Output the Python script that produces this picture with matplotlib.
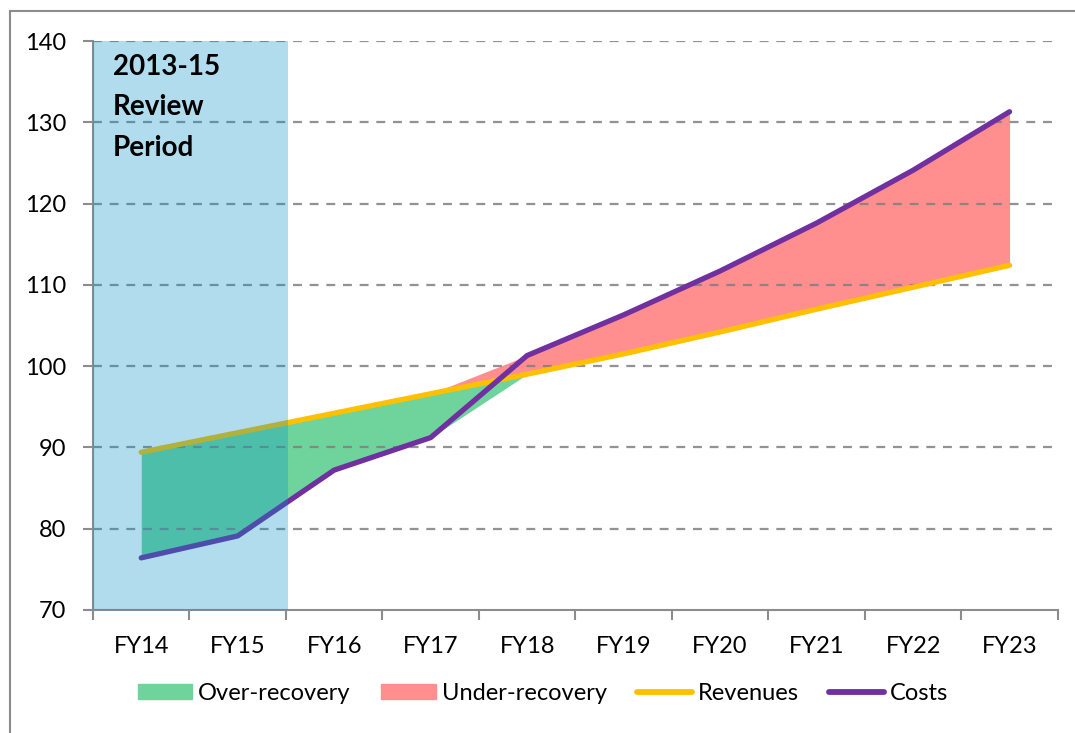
import numpy as np
import matplotlib
matplotlib.use("Agg")
import matplotlib.pyplot as plt
from matplotlib.patches import Rectangle
from matplotlib.lines import Line2D
from matplotlib.ticker import FixedLocator

plt.rcParams['font.family'] = ['Lato', 'DejaVu Sans']

years = ['FY14', 'FY15', 'FY16', 'FY17', 'FY18', 'FY19', 'FY20', 'FY21', 'FY22', 'FY23']
revenues = [89.4, 91.8, 94.2, 96.6, 99.0, 101.5, 104.2, 107.0, 109.7, 112.4]
costs = [76.4, 79.1, 87.2, 91.2, 101.3, 106.3, 111.7, 117.6, 124.1, 131.3]
review_label = '2013-15\nReview\nPeriod'

green = '#6ED49B'
red = '#FF8F8F'
yellow = '#FFC000'
purple = '#7030A0'
blue = (6 / 255, 144 / 255, 201 / 255)

x = np.arange(len(years))
rev = np.array(revenues)
cst = np.array(costs)
base = np.minimum(rev, cst)
over = np.maximum(rev - cst, 0)
under = np.maximum(cst - rev, 0)

fig = plt.figure(figsize=(10.75, 7.33), dpi=100)
ax = fig.add_axes([0.0865, 0.168, 0.8975, 0.776])

# excel-style stacked areas
ax.fill_between(x, base, base + over, color=green, lw=0, zorder=1)
ax.fill_between(x, base + over, base + over + under, color=red, lw=0, zorder=1)

for yv in range(80, 141, 10):
    ax.axhline(yv, color='#7f7f7f', lw=1.6, ls=(0, (4, 3.5)), alpha=0.85, zorder=2)

ax.plot(x, rev, color=yellow, lw=3.8, solid_capstyle='round', zorder=3)
ax.plot(x, cst, color=purple, lw=3.8, solid_capstyle='round', zorder=3)

# review period shading on top
ax.axvspan(-0.5, 1.52, color=blue, alpha=0.31, lw=0, zorder=4)
ax.text(-0.29, 138.4, review_label, fontsize=20, fontweight='bold', va='top',
        ha='left', linespacing=1.68, zorder=5)

ax.set_xlim(-0.5, 9.5)
ax.set_ylim(70, 140)
ax.set_yticks(range(70, 141, 10))
ax.set_xticks(x)
ax.set_xticklabels(years)
ax.xaxis.set_minor_locator(FixedLocator(np.arange(-0.5, 9.6, 1)))
ax.tick_params(axis='x', which='major', length=0, pad=19, labelsize=17)
ax.tick_params(axis='x', which='minor', length=7, width=1.5, color='#8c8c8c', direction='out')
ax.tick_params(axis='y', length=7, width=1.5, color='#8c8c8c', pad=12, labelsize=17)

for s in ['top', 'right']:
    ax.spines[s].set_visible(False)
for s in ['left', 'bottom']:
    ax.spines[s].set_color('#8c8c8c')
    ax.spines[s].set_linewidth(1.5)

handles = [
    Rectangle((0, 0), 1, 1, color=green),
    Rectangle((0, 0), 1, 1, color=red),
    Line2D([0], [0], color=yellow, lw=4.2, solid_capstyle='round'),
    Line2D([0], [0], color=purple, lw=4.2, solid_capstyle='round'),
]
labels = ['Over-recovery', 'Under-recovery', 'Revenues', 'Costs']
fig.legend(handles, labels, loc='center', bbox_to_anchor=(0.505, 0.054), ncol=4,
           frameon=False, fontsize=17, handlelength=2.3, handleheight=0.6,
           handletextpad=0.25, columnspacing=1.3)

# chart border
fig.patches.append(Rectangle((10 / 1075, -0.05), 1.1, 1 - 11 / 733 + 0.05,
                             transform=fig.transFigure, fill=False,
                             edgecolor='#8c8c8c', lw=1.5))

fig.savefig('out.png', dpi=100)
